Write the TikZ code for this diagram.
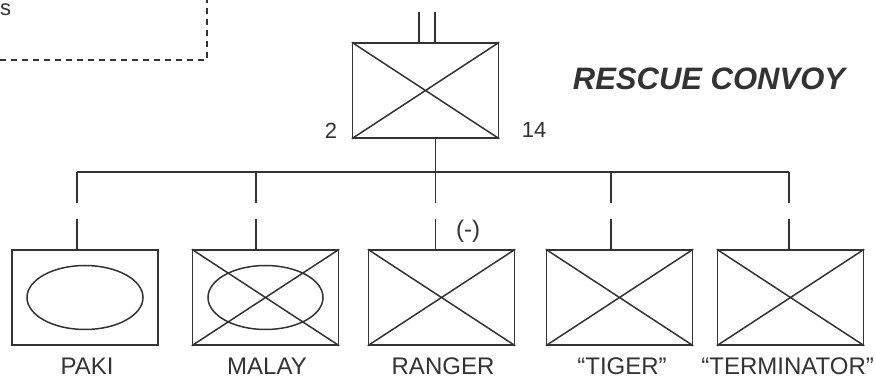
\documentclass[tikz,border=0pt]{standalone}
\usepackage{fontspec}
\setmainfont{Liberation Sans}
\definecolor{ink}{HTML}{333333}
\begin{document}
\begin{tikzpicture}[x=1pt,y=-1pt,
  line/.style={draw=ink,line width=1.5pt},
  unitbox/.style={draw=ink,line width=1.5pt,minimum width=146pt,minimum height=95pt,inner sep=0pt},
  lbl/.style={text=ink,font=\fontsize{24}{28}\selectfont,inner sep=0pt,anchor=base},
  num/.style={text=ink,font=\fontsize{22}{26}\selectfont,inner sep=0pt}]
\useasboundingbox (0,0) rectangle (875,379);
% top-left dashed remnant
\node[text=ink,font=\fontsize{22}{26}\selectfont,inner sep=0pt,anchor=west] (s) at (0,10) {s};
\coordinate (dA) at (0,60);
\coordinate (dB) at (207,60);
\coordinate (dC) at (207,0);
\draw[line,line width=1.2pt,dash pattern=on 6pt off 5pt] (dA) -- (dB) -- (dC);
% HQ box
\node[unitbox] (hq) at (425.5,90.5) {};
\draw[line] (hq.north west) -- (hq.south east) (hq.south west) -- (hq.north east);
\coordinate (t1) at (419,12);
\coordinate (t2) at (435,12);
\draw[line] (t1) -- (t1 |- hq.north);
\draw[line] (t2) -- (t2 |- hq.north);
\node[num] (n2) at (331,131) {2};
\node[num] (n14) at (534,130) {14};
\node[text=ink,font=\fontsize{31}{35}\selectfont\bfseries\itshape,inner sep=0pt] (title) at (709,79) {RESCUE CONVOY};
% bus
\coordinate (busL) at (77,172);
\coordinate (busR) at (789,172);
\coordinate (busC) at (435.5,172);
\draw[line] (busL) -- (busR);
\draw[line] (hq.south -| busC) -- (busC);
% subordinate boxes
\node[unitbox] (paki) at (85,297.5) {};
\node[unitbox] (malay) at (265.5,297.5) {};
\node[unitbox] (ranger) at (441.5,297.5) {};
\node[unitbox] (tiger) at (619.5,297.5) {};
\node[unitbox] (term) at (790.5,297.5) {};
\draw[line] (paki.center) ellipse [x radius=58pt,y radius=32pt];
\draw[line] (malay.center) ellipse [x radius=57.5pt,y radius=32pt];
\foreach \b in {malay,ranger,tiger,term}{
  \draw[line] (\b.north west) -- (\b.south east) (\b.south west) -- (\b.north east);
}
% broken drops
\foreach \x/\b in {77/paki,256/malay,435.5/ranger,611/tiger,789/term}{
  \coordinate (top\b) at (\x,172);
  \coordinate (gapA\b) at (\x,203);
  \coordinate (gapB\b) at (\x,219);
  \draw[line] (top\b) -- (gapA\b);
  \draw[line] (gapB\b) -- (gapB\b |- \b.north);
}
\node[num,font=\fontsize{24}{28}\selectfont] (minus) at (468,231) {(-)};
% labels
\node[lbl] (lp) at (87,374) {PAKI};
\node[lbl] (lm) at (267,374) {MALAY};
\node[lbl] (lr) at (443,374) {RANGER};
\node[lbl] (lt) at (622,374) {“TIGER”};
\node[lbl,anchor=base east] (lterm) at (874,374) {“TERMINATOR”};
\end{tikzpicture}
\end{document}
